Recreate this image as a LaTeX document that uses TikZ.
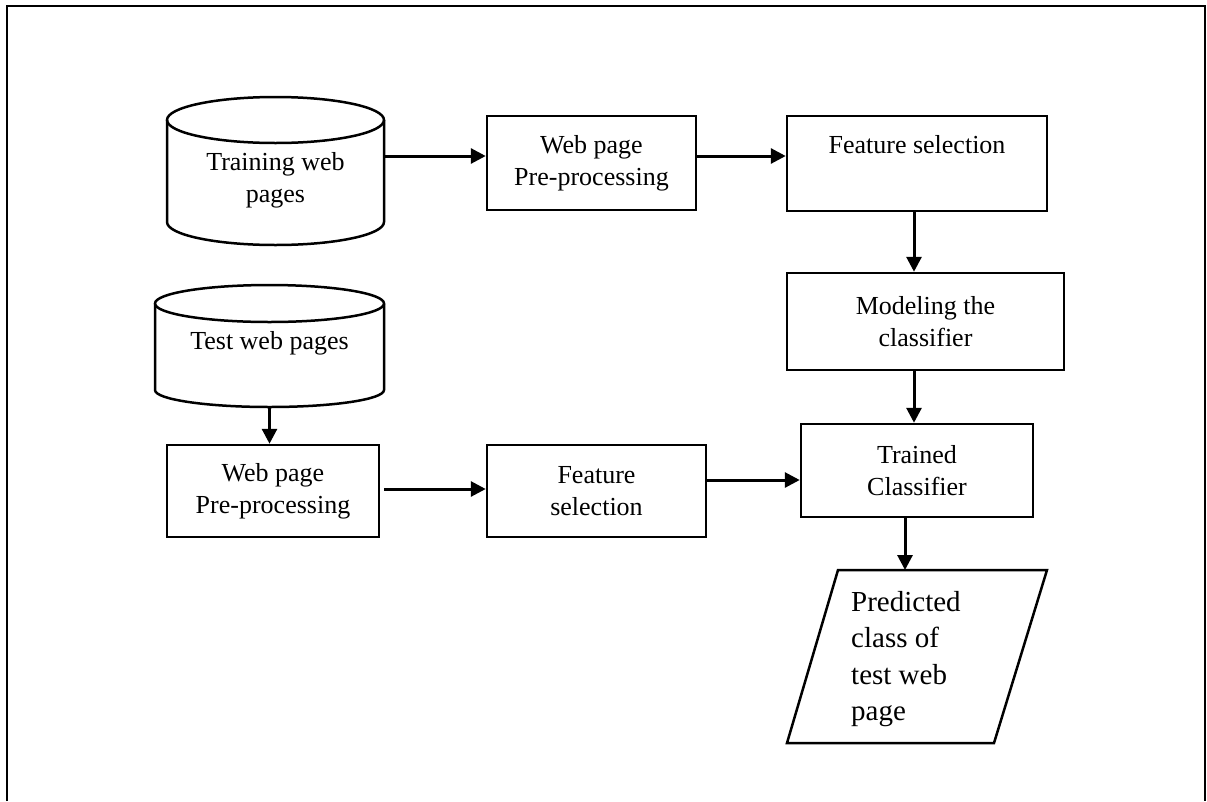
\documentclass[tikz,border=0pt]{standalone}
\usepackage{fontspec}
\setmainfont{Liberation Serif}
\usetikzlibrary{arrows.meta}
\begin{document}
\begin{tikzpicture}[x=1pt,y=-1pt,
  shapeline/.style={line width=2.5pt},
  box/.style={draw,line width=2.5pt,inner sep=0pt,align=center,font=\fontsize{26}{32}\selectfont},
  area/.style={inner sep=0pt,outer sep=0pt},
  txt/.style={align=center,inner sep=0pt,font=\fontsize{26}{32}\selectfont},
  bigtxt/.style={align=left,inner sep=0pt,font=\fontsize{29}{36.5}\selectfont},
  arr/.style={line width=3pt,-{Triangle[length=15pt,width=15pt]}}]
\useasboundingbox (0,0) rectangle (1207,801);
% outer frame (open at the bottom)
\draw[line width=2.5pt] (7,801) -- (7,6) -- (1205,6) -- (1205,801);

% training cylinder
\draw[shapeline] (167,120) -- (167,222) arc[start angle=180,end angle=360,x radius=108.5pt,y radius=23pt] -- (384,120);
\draw[shapeline] (275.5,120) ellipse[x radius=108.5pt,y radius=23pt];
\node[area,minimum width=217pt,minimum height=148pt] (train) at (275.5,171) {};
\node[txt] (traint) at (275.5,180) {Training web\\pages};

% test cylinder
\draw[shapeline] (155,303.5) -- (155,390) arc[start angle=180,end angle=360,x radius=114.5pt,y radius=17pt] -- (384,303.5);
\draw[shapeline] (269.5,303.5) ellipse[x radius=114.5pt,y radius=18.5pt];
\node[area,minimum width=229pt,minimum height=122pt] (test) at (269.5,346) {};
\node[txt] (testt) at (269.5,343) {Test web pages};

% boxes
\node[box,minimum width=209pt,minimum height=94pt] (wpp1) at (591.5,163) {Web page\\Pre-processing};
\node[box,minimum width=260pt,minimum height=95pt] (fs1) at (917,163.5) {};
\node[txt] (fs1t) at (917,145) {Feature selection};
\node[box,minimum width=277pt,minimum height=97pt] (model) at (925.5,321.5) {Modeling the\\classifier};
\node[box,minimum width=232pt,minimum height=93pt] (trained) at (917,470.5) {Trained\\Classifier};
\node[box,minimum width=212pt,minimum height=92pt] (wpp2) at (273,491) {Web page\\Pre-processing};
\node[box,minimum width=219pt,minimum height=92pt] (fs2) at (596.5,491) {Feature\\selection};

% output parallelogram
\node[area,minimum width=260pt,minimum height=173pt] (pred) at (917,656.5) {};
\draw[shapeline] (838,570) -- (1047,570) -- (994,743) -- (787,743) -- cycle;
\node[bigtxt,anchor=west] (predt) at (851,659) {Predicted\\class of\\test web\\page};

% connectors
\draw[arr] ([yshift=7pt]wpp1.west -| train.east) -- ([yshift=7pt]wpp1.west);
\draw[arr] ([yshift=7pt]wpp1.east) -- ([yshift=7pt]wpp1.east -| fs1.west);
\draw[arr] ([xshift=-3pt]fs1.south) -- ([xshift=-3pt]fs1.south |- model.north);
\draw[arr] ([xshift=-3pt]trained.north |- model.south) -- ([xshift=-3pt]trained.north);
\draw[arr] ([xshift=-12pt]trained.south) -- ([xshift=-12pt]trained.south |- pred.north);
\draw[arr] (test.south) -- (test.south |- wpp2.north);
\draw[arr] ([xshift=4pt,yshift=2pt]wpp2.east) -- ([yshift=2pt]wpp2.east -| fs2.west);
\draw[arr] ([yshift=11pt]fs2.east) -- ([yshift=11pt]fs2.east -| trained.west);
\end{tikzpicture}
\end{document}
